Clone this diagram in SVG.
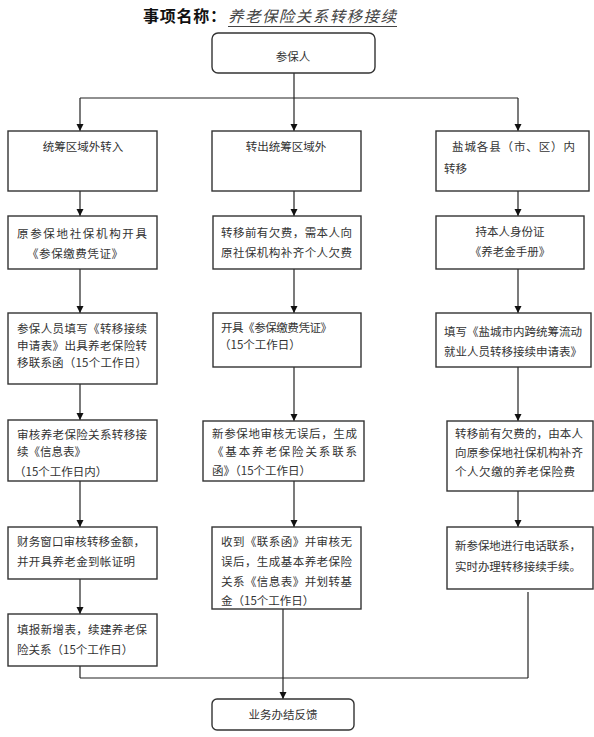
<svg xmlns="http://www.w3.org/2000/svg" width="594" height="737" viewBox="0 0 594 737">
<defs>
<style>
.bx{fill:#fff;stroke:#333;stroke-width:1.4}
.t{font-family:"Noto Sans CJK SC","Noto Sans",sans-serif;font-size:11.5px;fill:#333}
.c{text-anchor:middle}
.ln{fill:none;stroke:#222;stroke-width:1.2}
</style>
<marker id="ah" markerUnits="userSpaceOnUse" markerWidth="8" markerHeight="8" refX="7" refY="3.5" orient="auto">
<path d="M0,0 L7,3.5 L0,7 z" fill="#111"/>
</marker>
</defs>
<rect width="594" height="737" fill="#fff"/>
<g id="title">
<text x="143" y="22" font-family="'Noto Sans CJK SC',sans-serif" font-size="16" font-weight="bold" fill="#111" textLength="83" lengthAdjust="spacing">事项名称：</text>
<text x="228" y="22" font-family="'Noto Sans CJK SC',sans-serif" font-size="15.5" font-style="italic" fill="#444" textLength="168" lengthAdjust="spacing">养老保险关系转移接续</text>
<line x1="228" y1="26.5" x2="397" y2="26.5" stroke="#444" stroke-width="1"/>
</g>
<g id="connectors">
<line class="ln" x1="294" y1="73" x2="294" y2="98"/>
<line class="ln" x1="80" y1="98" x2="518" y2="98"/>
<line class="ln" x1="80" y1="98" x2="80" y2="131" marker-end="url(#ah)"/>
<line class="ln" x1="294" y1="98" x2="294" y2="131" marker-end="url(#ah)"/>
<line class="ln" x1="518" y1="98" x2="518" y2="131" marker-end="url(#ah)"/>
<line class="ln" x1="80" y1="191" x2="80" y2="216" marker-end="url(#ah)"/>
<line class="ln" x1="294" y1="191" x2="294" y2="216" marker-end="url(#ah)"/>
<line class="ln" x1="518" y1="191" x2="518" y2="216" marker-end="url(#ah)"/>
<line class="ln" x1="80" y1="269" x2="80" y2="313" marker-end="url(#ah)"/>
<line class="ln" x1="294" y1="269" x2="294" y2="313" marker-end="url(#ah)"/>
<line class="ln" x1="518" y1="269" x2="518" y2="313" marker-end="url(#ah)"/>
<line class="ln" x1="80" y1="384" x2="80" y2="420" marker-end="url(#ah)"/>
<line class="ln" x1="294" y1="367" x2="294" y2="421" marker-end="url(#ah)"/>
<line class="ln" x1="518" y1="367" x2="518" y2="421" marker-end="url(#ah)"/>
<line class="ln" x1="80" y1="481" x2="80" y2="527" marker-end="url(#ah)"/>
<line class="ln" x1="294" y1="481" x2="294" y2="527" marker-end="url(#ah)"/>
<line class="ln" x1="518" y1="491" x2="518" y2="527" marker-end="url(#ah)"/>
<line class="ln" x1="80" y1="579" x2="80" y2="614" marker-end="url(#ah)"/>
<line class="ln" x1="80" y1="666" x2="80" y2="678"/>
<line class="ln" x1="80" y1="678" x2="528" y2="678"/>
<line class="ln" x1="528" y1="592" x2="528" y2="678"/>
<line class="ln" x1="283" y1="609" x2="283" y2="699" marker-end="url(#ah)"/>
</g>
<g id="n0">
<rect class="bx" x="212" y="33" width="163" height="40" rx="6"/>
<text class="t c" x="293" y="61" font-size="13">参保人</text>
</g>
<g id="c1r1">
<rect class="bx" x="8" y="131" width="149" height="60"/>
<text class="t c" x="83" y="151">统筹区域外转入</text>
</g>
<g id="c2r1">
<rect class="bx" x="212" y="131" width="149" height="60"/>
<text class="t c" x="286" y="151">转出统筹区域外</text>
</g>
<g id="c3r1">
<rect class="bx" x="436" y="131" width="153" height="60"/>
<text class="t" x="452" y="151" textLength="123" lengthAdjust="spacing">盐城各县（市、区）内</text>
<text class="t" x="444" y="173">转移</text>
</g>
<g id="c1r2">
<rect class="bx" x="8" y="216" width="149" height="53"/>
<text class="t" x="17" y="238" textLength="130" lengthAdjust="spacing">原参保地社保机构开具</text>
<text class="t" x="27" y="258" textLength="96" lengthAdjust="spacing">《参保缴费凭证》</text>
</g>
<g id="c2r2">
<rect class="bx" x="213" y="216" width="148" height="53"/>
<text class="t" x="221" y="237" textLength="131" lengthAdjust="spacing">转移前有欠费，需本人向</text>
<text class="t" x="221" y="257" textLength="131" lengthAdjust="spacing">原社保机构补齐个人欠费</text>
</g>
<g id="c3r2">
<rect class="bx" x="436" y="216" width="148" height="53"/>
<text class="t c" x="510" y="236">持本人身份证</text>
<text class="t c" x="510" y="256">《养老金手册》</text>
</g>
<g id="c1r3">
<rect class="bx" x="8" y="313" width="149" height="71"/>
<text class="t" x="17" y="333" textLength="130" lengthAdjust="spacing">参保人员填写《转移接续</text>
<text class="t" x="17" y="350" textLength="130" lengthAdjust="spacing">申请表》出具养老保险转</text>
<text class="t" x="17" y="367" textLength="130" lengthAdjust="spacing">移联系函（15个工作日）</text>
</g>
<g id="c2r3">
<rect class="bx" x="213" y="313" width="148" height="54"/>
<text class="t" x="221" y="332" textLength="111" lengthAdjust="spacing">开具《参保缴费凭证》</text>
<text class="t" x="219" y="349">（15个工作日）</text>
</g>
<g id="c3r3">
<rect class="bx" x="436" y="313" width="155" height="54"/>
<text class="t" x="444" y="336" textLength="138" lengthAdjust="spacing">填写《盐城市内跨统筹流动</text>
<text class="t" x="444" y="356" textLength="138" lengthAdjust="spacing">就业人员转移接续申请表》</text>
</g>
<g id="c1r4">
<rect class="bx" x="8" y="420" width="149" height="61"/>
<text class="t" x="17" y="439" textLength="130" lengthAdjust="spacing">审核养老保险关系转移接</text>
<text class="t" x="17" y="456">续《信息表》</text>
<text class="t" x="14" y="476">（15个工作日内）</text>
</g>
<g id="c2r4">
<rect class="bx" x="203" y="421" width="161" height="60"/>
<text class="t" x="212" y="438" textLength="145" lengthAdjust="spacing">新参保地审核无误后，生成</text>
<text class="t" x="212" y="456" textLength="145" lengthAdjust="spacing">《基本养老保险关系联系</text>
<text class="t" x="212" y="475">函》（15个工作日）</text>
</g>
<g id="c3r4">
<rect class="bx" x="447" y="421" width="146" height="70"/>
<text class="t" x="455" y="438" textLength="128" lengthAdjust="spacing">转移前有欠费的，由本人</text>
<text class="t" x="455" y="457" textLength="128" lengthAdjust="spacing">向原参保地社保机构补齐</text>
<text class="t" x="455" y="476" textLength="120" lengthAdjust="spacing">个人欠缴的养老保险费</text>
</g>
<g id="c1r5">
<rect class="bx" x="8" y="527" width="149" height="52"/>
<text class="t" x="17" y="546" textLength="128" lengthAdjust="spacing">财务窗口审核转移金额，</text>
<text class="t" x="17" y="566" textLength="118" lengthAdjust="spacing">并开具养老金到帐证明</text>
</g>
<g id="c2r5">
<rect class="bx" x="212" y="527" width="149" height="82"/>
<text class="t" x="221" y="546" textLength="131" lengthAdjust="spacing">收到《联系函》并审核无</text>
<text class="t" x="221" y="566" textLength="131" lengthAdjust="spacing">误后，生成基本养老保险</text>
<text class="t" x="221" y="586" textLength="131" lengthAdjust="spacing">关系《信息表》并划转基</text>
<text class="t" x="221" y="605">金（15个工作日）</text>
</g>
<g id="c3r5">
<rect class="bx" x="447" y="527" width="146" height="62"/>
<text class="t" x="455" y="550" textLength="126" lengthAdjust="spacing">新参保地进行电话联系，</text>
<text class="t" x="455" y="571" textLength="126" lengthAdjust="spacing">实时办理转移接续手续。</text>
</g>
<g id="c1r6">
<rect class="bx" x="8" y="614" width="149" height="52"/>
<text class="t" x="17" y="634" textLength="130" lengthAdjust="spacing">填报新增表，续建养老保</text>
<text class="t" x="17" y="654">险关系（15个工作日）</text>
</g>
<g id="end">
<rect class="bx" x="212" y="699" width="142" height="31" rx="5"/>
<text class="t c" x="283" y="719">业务办结反馈</text>
</g>
</svg>
